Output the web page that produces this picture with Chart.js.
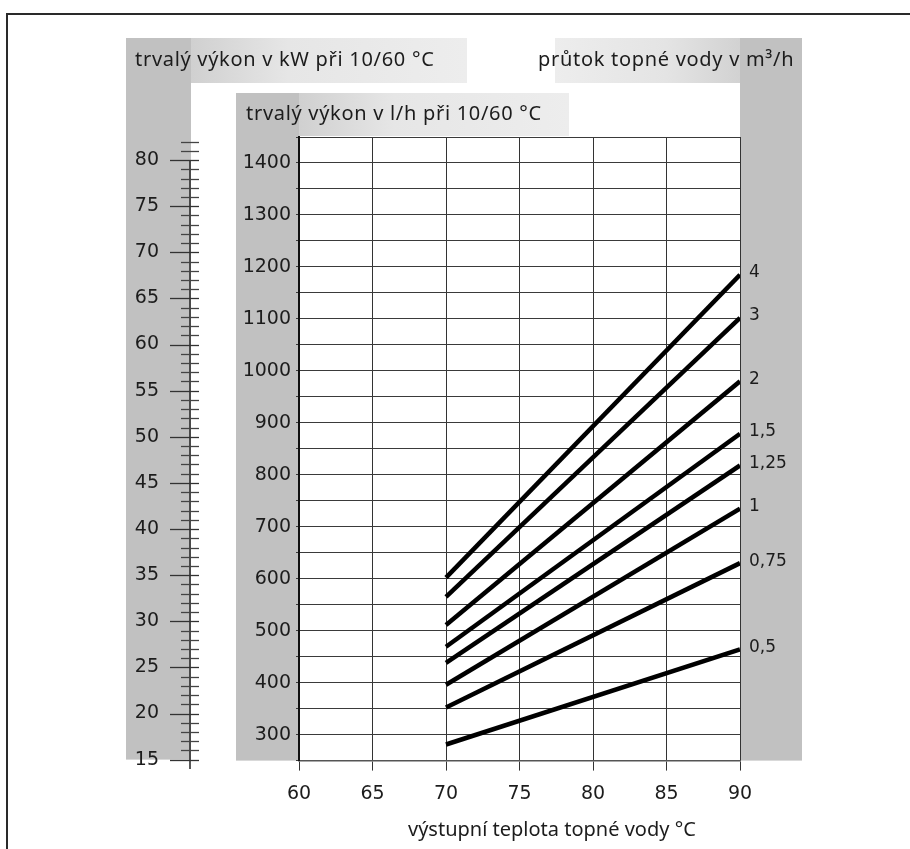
<!DOCTYPE html>
<html lang="cs">
<head>
<meta charset="utf-8">
<title>Trvalý výkon</title>
<script src="https://cdn.jsdelivr.net/npm/chart.js@4.4.1/dist/chart.umd.min.js"></script>
<style>
  html, body { margin: 0; padding: 0; background: #fff; }
  #wrap { position: relative; width: 910px; height: 849px; }
</style>
</head>
<body>
<div id="wrap"><canvas id="vykonChart"></canvas></div>
<script>
// výstupní teplota topné vody (°C) – začátek a konec čar
const teplota = [70, 90];

// trvalý výkon v l/h pro jednotlivé průtoky topné vody (m3/h)
const prutokPopisky = ['4', '3', '2', '1,5', '1,25', '1', '0,75', '0,5'];
const vykon4 = [602, 1185];
const vykon3 = [565, 1102];
const vykon2 = [511, 980];
const vykon15 = [469, 879];
const vykon125 = [438, 818];
const vykon1 = [396, 735];
const vykon075 = [352, 630];
const vykon05 = [281, 464];
const vykonRady = [vykon4, vykon3, vykon2, vykon15, vykon125, vykon1, vykon075, vykon05];

// popisky os
const teplotaOsa = [60, 65, 70, 75, 80, 85, 90];
const litryOsa = [300, 400, 500, 600, 700, 800, 900, 1000, 1100, 1200, 1300, 1400];
const kwOsa = [15, 20, 25, 30, 35, 40, 45, 50, 55, 60, 65, 70, 75, 80];

const FONT_TEXT = 'Noto Sans';
const FONT_NUM = 'DejaVu Sans';
const INK = '#1c1c1c';

const datasets = vykonRady.map((rada, i) => ({
  label: prutokPopisky[i],
  data: teplota.map((t, j) => ({ x: t, y: rada[j] })),
  borderColor: '#000',
  borderWidth: 4.5,
  borderCapStyle: 'butt',
  pointRadius: 0,
  tension: 0,
}));

function svetlyStitek(ctx, x, y, w, h, tmavyVlevo) {
  const g = ctx.createLinearGradient(x, 0, x + w, 0);
  if (tmavyVlevo) {
    g.addColorStop(0, '#d0d0d0');
    g.addColorStop(0.35, '#e6e6e6');
    g.addColorStop(1, '#ededed');
  } else {
    g.addColorStop(0, '#ededed');
    g.addColorStop(0.6, '#e4e4e4');
    g.addColorStop(1, '#d2d2d2');
  }
  ctx.fillStyle = g;
  ctx.fillRect(x, y, w, h);
}

// pozadí: rámeček, šedé pásy, štítky a nadpisy os
const pozadi = {
  id: 'pozadi',
  beforeDraw(chart) {
    const { ctx, chartArea: a, scales } = chart;
    const kwLeft = scales.kw.left;
    const kwLine = kwLeft + 64;
    ctx.save();

    ctx.strokeStyle = '#2a2a2a';
    ctx.lineWidth = 2;
    ctx.beginPath();
    ctx.moveTo(910, 14);
    ctx.lineTo(7, 14);
    ctx.lineTo(7, 849);
    ctx.stroke();

    ctx.fillStyle = '#c1c1c1';
    ctx.fillRect(kwLeft, 38, kwLine + 1 - kwLeft, a.bottom - 1 - 38);
    ctx.fillRect(scales.y.left, 93, a.left - scales.y.left, a.bottom - 93);
    ctx.fillRect(a.right, 38, 62, a.bottom - 38);

    svetlyStitek(ctx, kwLine + 1, 38, 276, 45, true);
    svetlyStitek(ctx, a.left, 93, 270, 43, true);
    svetlyStitek(ctx, 555, 38, a.right - 555, 45, false);

    ctx.fillStyle = INK;
    ctx.font = `20px "${FONT_TEXT}"`;
    ctx.letterSpacing = '0.7px';
    ctx.textBaseline = 'middle';
    ctx.textAlign = 'left';
    ctx.fillText('trvalý výkon v kW při 10/60 °C', 135, 60);
    ctx.fillText('průtok topné vody v m³/h', 538, 60);
    ctx.fillText('trvalý výkon v l/h při 10/60 °C', 246, 114);
    ctx.letterSpacing = '0px';
    ctx.fillText('výstupní teplota topné vody °C', 408, 830);
    ctx.restore();
  },
  afterDraw(chart) {
    // pomocná stupnice kW s dělením po 1 kW
    const { ctx, scales } = chart;
    const kw = scales.kw;
    const x = kw.left + 64;
    ctx.save();
    ctx.strokeStyle = '#222';
    ctx.lineWidth = 1.5;
    ctx.beginPath();
    ctx.moveTo(x, kw.getPixelForValue(80));
    ctx.lineTo(x, kw.getPixelForValue(14));
    ctx.stroke();
    ctx.lineWidth = 1.3;
    kw.ticks.forEach(t => {
      const y = Math.round(kw.getPixelForValue(t.value)) + 0.5;
      const hlavni = kwOsa.includes(t.value);
      ctx.strokeStyle = hlavni ? '#333' : '#444';
      ctx.beginPath();
      ctx.moveTo(hlavni ? x - 20 : x - 9, y);
      ctx.lineTo(x + 9, y);
      ctx.stroke();
    });
    ctx.restore();
  },
  afterDatasetsDraw(chart) {
    // popisky průtoku na konci čar
    const { ctx } = chart;
    ctx.save();
    ctx.fillStyle = INK;
    ctx.font = `17px "${FONT_NUM}"`;
    ctx.textBaseline = 'middle';
    ctx.textAlign = 'left';
    chart.data.datasets.forEach((ds, i) => {
      const pts = chart.getDatasetMeta(i).data;
      const p = pts[pts.length - 1];
      ctx.fillText(ds.label, p.x + 9, p.y - 2);
    });
    ctx.restore();
  },
};

const config = {
  type: 'line',
  data: { datasets },
  options: {
    responsive: true,
    maintainAspectRatio: false,
    animation: false,
    events: [],
    layout: { padding: { left: 126, right: 170, top: 137, bottom: 0 } },
    plugins: {
      legend: { display: false },
      tooltip: { enabled: false },
    },
    scales: {
      x: {
        type: 'linear',
        min: teplotaOsa[0],
        max: teplotaOsa[teplotaOsa.length - 1],
        ticks: {
          stepSize: 5,
          color: INK,
          padding: 12,
          font: { family: FONT_NUM, size: 19 },
        },
        grid: { color: '#333', lineWidth: 1, tickLength: 10 },
        border: { color: '#555', width: 1.5 },
        afterFit: s => { s.height = 88; },
      },
      y: {
        type: 'linear',
        position: 'left',
        min: 250,
        max: 1450,
        ticks: {
          stepSize: 50,
          autoSkip: false,
          color: INK,
          padding: 5,
          font: { family: FONT_NUM, size: 19 },
          callback: v => (litryOsa.includes(v) ? v : ''),
        },
        grid: { color: '#3a3a3a', lineWidth: 1, tickLength: 3 },
        border: { color: '#111', width: 2 },
        afterFit: s => { s.width = 63; },
      },
      kw: {
        type: 'linear',
        position: 'left',
        weight: 1,
        min: 14.9,
        max: 82.5,
        ticks: {
          stepSize: 1,
          autoSkip: false,
          includeBounds: false,
          color: INK,
          padding: 77,
          font: { family: FONT_NUM, size: 19 },
          callback: v => (kwOsa.includes(v) ? v : ''),
        },
        grid: { display: false, drawTicks: false },
        border: { display: false },
        afterFit: s => { s.width = 110; },
      },
    },
  },
  plugins: [pozadi],
};

new Chart(document.getElementById('vykonChart').getContext('2d'), config);
</script>
</body>
</html>
